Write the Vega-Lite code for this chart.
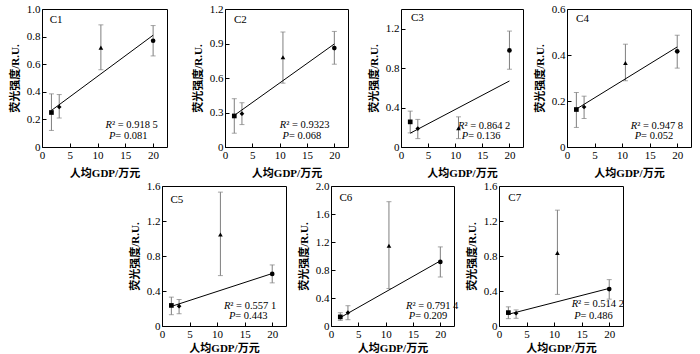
{
"$schema": "https://vega.github.io/schema/vega-lite/v6.json",
"background": "white",
"padding": {"left": 8, "top": 2, "right": 0, "bottom": 0},
"datasets": {
"pts": [
{"panel":"C1","gdp":1.7,"mean":0.25,"lo":0.12,"hi":0.385,"grp":"a"},
{"panel":"C1","gdp":3.1,"mean":0.29,"lo":0.21,"hi":0.38,"grp":"b"},
{"panel":"C1","gdp":10.6,"mean":0.72,"lo":0.56,"hi":0.885,"grp":"c"},
{"panel":"C1","gdp":20,"mean":0.77,"lo":0.66,"hi":0.88,"grp":"d"},
{"panel":"C2","gdp":1.7,"mean":0.27,"lo":0.12,"hi":0.42,"grp":"a"},
{"panel":"C2","gdp":3.1,"mean":0.29,"lo":0.195,"hi":0.385,"grp":"b"},
{"panel":"C2","gdp":10.6,"mean":0.78,"lo":0.555,"hi":1.0,"grp":"c"},
{"panel":"C2","gdp":20,"mean":0.86,"lo":0.72,"hi":1.005,"grp":"d"},
{"panel":"C3","gdp":1.7,"mean":0.255,"lo":0.143,"hi":0.364,"grp":"a"},
{"panel":"C3","gdp":3.1,"mean":0.187,"lo":0.085,"hi":0.28,"grp":"b"},
{"panel":"C3","gdp":10.6,"mean":0.19,"lo":0.085,"hi":0.306,"grp":"c"},
{"panel":"C3","gdp":20,"mean":0.98,"lo":0.789,"hi":1.176,"grp":"d"},
{"panel":"C4","gdp":1.7,"mean":0.163,"lo":0.085,"hi":0.237,"grp":"a"},
{"panel":"C4","gdp":3.1,"mean":0.174,"lo":0.124,"hi":0.221,"grp":"b"},
{"panel":"C4","gdp":10.6,"mean":0.365,"lo":0.288,"hi":0.447,"grp":"c"},
{"panel":"C4","gdp":20,"mean":0.416,"lo":0.343,"hi":0.486,"grp":"d"},
{"panel":"C5","gdp":1.7,"mean":0.235,"lo":0.129,"hi":0.33,"grp":"a"},
{"panel":"C5","gdp":3.1,"mean":0.227,"lo":0.14,"hi":0.303,"grp":"b"},
{"panel":"C5","gdp":10.6,"mean":1.046,"lo":0.576,"hi":1.53,"grp":"c"},
{"panel":"C5","gdp":20,"mean":0.595,"lo":0.493,"hi":0.698,"grp":"d"},
{"panel":"C6","gdp":1.7,"mean":0.13,"lo":0.08,"hi":0.19,"grp":"a"},
{"panel":"C6","gdp":3.1,"mean":0.19,"lo":0.09,"hi":0.29,"grp":"b"},
{"panel":"C6","gdp":10.6,"mean":1.146,"lo":0.535,"hi":1.776,"grp":"c"},
{"panel":"C6","gdp":20,"mean":0.916,"lo":0.7,"hi":1.13,"grp":"d"},
{"panel":"C7","gdp":1.7,"mean":0.153,"lo":0.084,"hi":0.219,"grp":"a"},
{"panel":"C7","gdp":3.1,"mean":0.146,"lo":0.088,"hi":0.184,"grp":"b"},
{"panel":"C7","gdp":10.6,"mean":0.836,"lo":0.361,"hi":1.324,"grp":"c"},
{"panel":"C7","gdp":20,"mean":0.422,"lo":0.307,"hi":0.53,"grp":"d"}
],
"fit": [
{"panel":"C1","gdp":1.7,"fit":0.265},{"panel":"C1","gdp":20,"fit":0.81},
{"panel":"C2","gdp":1.7,"fit":0.275},{"panel":"C2","gdp":20,"fit":0.896},
{"panel":"C3","gdp":1.7,"fit":0.14},{"panel":"C3","gdp":20,"fit":0.67},
{"panel":"C4","gdp":1.7,"fit":0.165},{"panel":"C4","gdp":20,"fit":0.435},
{"panel":"C5","gdp":1.7,"fit":0.224},{"panel":"C5","gdp":20,"fit":0.6},
{"panel":"C6","gdp":1.7,"fit":0.12},{"panel":"C6","gdp":20,"fit":0.93},
{"panel":"C7","gdp":1.7,"fit":0.134},{"panel":"C7","gdp":20,"fit":0.43}
],
"stats": [
{"panel":"C1","r2t":"² = 0.918 5","pt":"\u00a0= 0.081"},
{"panel":"C2","r2t":"² = 0.9323","pt":"\u00a0= 0.068"},
{"panel":"C3","r2t":"² = 0.864 2","pt":"\u00a0= 0.136"},
{"panel":"C4","r2t":"² = 0.947 8","pt":"\u00a0= 0.052"},
{"panel":"C5","r2t":"² = 0.557 1","pt":"\u00a0= 0.443"},
{"panel":"C6","r2t":"² = 0.791 4","pt":"\u00a0= 0.209"},
{"panel":"C7","r2t":"² = 0.514 2","pt":"\u00a0= 0.486"}
]
},
"vconcat": [
{"hconcat": [
 {"hconcat": [
  {"width":125,"height":138,"layer":[
   {"data":{"name":"pts"},"transform":[{"filter":"datum.panel==='C1'"}],"mark":{"type":"errorbar","ticks":{"size":5},"color":"#7f7f7f","thickness":1},
    "encoding":{"x":{"field":"gdp","type":"quantitative","title":"人均GDP/万元","scale":{"domain":[0,22.5],"nice":false,"zero":false},"axis":{"values":[0,5,10,15,20],"tickCount":12,"labelOverlap":false,"titlePadding":7}},
     "y":{"field":"lo","type":"quantitative","title":"荧光强度/R.U.","scale":{"domain":[0,1.0],"nice":false},"axis":{"values":[0,0.2,0.4,0.6,0.8,1.0],"tickCount":12,"labelOverlap":false,"labelExpr":"datum.value == 0 ? '0' : format(datum.value, '.1f')"}},"y2":{"field":"hi"}}},
   {"data":{"name":"fit"},"transform":[{"filter":"datum.panel==='C1'"}],"mark":{"type":"line","color":"black","strokeWidth":1},"encoding":{"x":{"field":"gdp","type":"quantitative"},"y":{"field":"fit","type":"quantitative"}}},
   {"data":{"name":"pts"},"transform":[{"filter":"datum.panel==='C1'"}],"mark":{"type":"point","filled":true,"color":"black","size":22,"opacity":1},"encoding":{"x":{"field":"gdp","type":"quantitative"},"y":{"field":"mean","type":"quantitative"},"shape":{"field":"grp","type":"nominal","scale":{"domain":["a","b","c","d"],"range":["square","diamond","triangle-up","circle"]},"legend":null}}},
   {"data":{"name":"stats"},"transform":[{"filter":"datum.panel==='C1'"}],"mark":{"type":"text","align":"left","baseline":"middle","font":"Liberation Serif","fontSize":11,"color":"black"},"encoding":{"x":{"datum":1.38},"y":{"datum":0.923},"text":{"field":"panel"}}},
   {"data":{"name":"stats"},"transform":[{"filter":"datum.panel==='C1'"}],"mark":{"type":"text","align":"right","baseline":"middle","font":"Liberation Serif","fontSize":10.5,"fontStyle":"italic","color":"black"},"encoding":{"x":{"datum":12.6},"y":{"datum":0.157},"text":{"value":"R"}}},
   {"data":{"name":"stats"},"transform":[{"filter":"datum.panel==='C1'"}],"mark":{"type":"text","align":"left","baseline":"middle","font":"Liberation Serif","fontSize":10.5,"color":"black"},"encoding":{"x":{"datum":12.6},"y":{"datum":0.157},"text":{"field":"r2t"}}},
   {"data":{"name":"stats"},"transform":[{"filter":"datum.panel==='C1'"}],"mark":{"type":"text","align":"right","baseline":"middle","font":"Liberation Serif","fontSize":10.5,"fontStyle":"italic","color":"black"},"encoding":{"x":{"datum":13.2},"y":{"datum":0.08},"text":{"value":"P"}}},
   {"data":{"name":"stats"},"transform":[{"filter":"datum.panel==='C1'"}],"mark":{"type":"text","align":"left","baseline":"middle","font":"Liberation Serif","fontSize":10.5,"color":"black"},"encoding":{"x":{"datum":13.2},"y":{"datum":0.08},"text":{"field":"pt"}}}
  ]},
  {"width":123,"height":138,"layer":[
   {"data":{"name":"pts"},"transform":[{"filter":"datum.panel==='C2'"}],"mark":{"type":"errorbar","ticks":{"size":5},"color":"#7f7f7f","thickness":1},
    "encoding":{"x":{"field":"gdp","type":"quantitative","title":"人均GDP/万元","scale":{"domain":[0,22.5],"nice":false,"zero":false},"axis":{"values":[0,5,10,15,20],"tickCount":12,"labelOverlap":false,"titlePadding":7}},
     "y":{"field":"lo","type":"quantitative","title":"荧光强度/R.U.","scale":{"domain":[0,1.2],"nice":false},"axis":{"values":[0,0.3,0.6,0.9,1.2],"tickCount":12,"labelOverlap":false,"labelExpr":"datum.value == 0 ? '0' : format(datum.value, '.1f')"}},"y2":{"field":"hi"}}},
   {"data":{"name":"fit"},"transform":[{"filter":"datum.panel==='C2'"}],"mark":{"type":"line","color":"black","strokeWidth":1},"encoding":{"x":{"field":"gdp","type":"quantitative"},"y":{"field":"fit","type":"quantitative"}}},
   {"data":{"name":"pts"},"transform":[{"filter":"datum.panel==='C2'"}],"mark":{"type":"point","filled":true,"color":"black","size":22,"opacity":1},"encoding":{"x":{"field":"gdp","type":"quantitative"},"y":{"field":"mean","type":"quantitative"},"shape":{"field":"grp","type":"nominal","scale":{"domain":["a","b","c","d"],"range":["square","diamond","triangle-up","circle"]},"legend":null}}},
   {"data":{"name":"stats"},"transform":[{"filter":"datum.panel==='C2'"}],"mark":{"type":"text","align":"left","baseline":"middle","font":"Liberation Serif","fontSize":11,"color":"black"},"encoding":{"x":{"datum":1.63},"y":{"datum":1.108},"text":{"field":"panel"}}},
   {"data":{"name":"stats"},"transform":[{"filter":"datum.panel==='C2'"}],"mark":{"type":"text","align":"right","baseline":"middle","font":"Liberation Serif","fontSize":10.5,"fontStyle":"italic","color":"black"},"encoding":{"x":{"datum":11.2},"y":{"datum":0.188},"text":{"value":"R"}}},
   {"data":{"name":"stats"},"transform":[{"filter":"datum.panel==='C2'"}],"mark":{"type":"text","align":"left","baseline":"middle","font":"Liberation Serif","fontSize":10.5,"color":"black"},"encoding":{"x":{"datum":11.2},"y":{"datum":0.188},"text":{"field":"r2t"}}},
   {"data":{"name":"stats"},"transform":[{"filter":"datum.panel==='C2'"}],"mark":{"type":"text","align":"right","baseline":"middle","font":"Liberation Serif","fontSize":10.5,"fontStyle":"italic","color":"black"},"encoding":{"x":{"datum":11.7},"y":{"datum":0.095},"text":{"value":"P"}}},
   {"data":{"name":"stats"},"transform":[{"filter":"datum.panel==='C2'"}],"mark":{"type":"text","align":"left","baseline":"middle","font":"Liberation Serif","fontSize":10.5,"color":"black"},"encoding":{"x":{"datum":11.7},"y":{"datum":0.095},"text":{"field":"pt"}}}
  ]}
 ], "spacing": 23},
 {"hconcat": [
  {"width":122,"height":138,"layer":[
   {"data":{"name":"pts"},"transform":[{"filter":"datum.panel==='C3'"}],"mark":{"type":"errorbar","ticks":{"size":5},"color":"#7f7f7f","thickness":1},
    "encoding":{"x":{"field":"gdp","type":"quantitative","title":"人均GDP/万元","scale":{"domain":[0,22.5],"nice":false,"zero":false},"axis":{"values":[0,5,10,15,20],"tickCount":12,"labelOverlap":false,"titlePadding":7}},
     "y":{"field":"lo","type":"quantitative","title":"荧光强度/R.U.","scale":{"domain":[0,1.4],"nice":false},"axis":{"values":[0,0.4,0.8,1.2],"tickCount":12,"labelOverlap":false,"labelExpr":"datum.value == 0 ? '0' : format(datum.value, '.1f')"}},"y2":{"field":"hi"}}},
   {"data":{"name":"fit"},"transform":[{"filter":"datum.panel==='C3'"}],"mark":{"type":"line","color":"black","strokeWidth":1},"encoding":{"x":{"field":"gdp","type":"quantitative"},"y":{"field":"fit","type":"quantitative"}}},
   {"data":{"name":"pts"},"transform":[{"filter":"datum.panel==='C3'"}],"mark":{"type":"point","filled":true,"color":"black","size":22,"opacity":1},"encoding":{"x":{"field":"gdp","type":"quantitative"},"y":{"field":"mean","type":"quantitative"},"shape":{"field":"grp","type":"nominal","scale":{"domain":["a","b","c","d"],"range":["square","diamond","triangle-up","circle"]},"legend":null}}},
   {"data":{"name":"stats"},"transform":[{"filter":"datum.panel==='C3'"}],"mark":{"type":"text","align":"left","baseline":"middle","font":"Liberation Serif","fontSize":11,"color":"black"},"encoding":{"x":{"datum":1.83},"y":{"datum":1.309},"text":{"field":"panel"}}},
   {"data":{"name":"stats"},"transform":[{"filter":"datum.panel==='C3'"}],"mark":{"type":"text","align":"right","baseline":"middle","font":"Liberation Serif","fontSize":10.5,"fontStyle":"italic","color":"black"},"encoding":{"x":{"datum":11.7},"y":{"datum":0.211},"text":{"value":"R"}}},
   {"data":{"name":"stats"},"transform":[{"filter":"datum.panel==='C3'"}],"mark":{"type":"text","align":"left","baseline":"middle","font":"Liberation Serif","fontSize":10.5,"color":"black"},"encoding":{"x":{"datum":11.7},"y":{"datum":0.211},"text":{"field":"r2t"}}},
   {"data":{"name":"stats"},"transform":[{"filter":"datum.panel==='C3'"}],"mark":{"type":"text","align":"right","baseline":"middle","font":"Liberation Serif","fontSize":10.5,"fontStyle":"italic","color":"black"},"encoding":{"x":{"datum":12.4},"y":{"datum":0.112},"text":{"value":"P"}}},
   {"data":{"name":"stats"},"transform":[{"filter":"datum.panel==='C3'"}],"mark":{"type":"text","align":"left","baseline":"middle","font":"Liberation Serif","fontSize":10.5,"color":"black"},"encoding":{"x":{"datum":12.4},"y":{"datum":0.112},"text":{"field":"pt"}}}
  ]},
  {"width":124,"height":138,"layer":[
   {"data":{"name":"pts"},"transform":[{"filter":"datum.panel==='C4'"}],"mark":{"type":"errorbar","ticks":{"size":5},"color":"#7f7f7f","thickness":1},
    "encoding":{"x":{"field":"gdp","type":"quantitative","title":"人均GDP/万元","scale":{"domain":[0,22.5],"nice":false,"zero":false},"axis":{"values":[0,5,10,15,20],"tickCount":12,"labelOverlap":false,"titlePadding":7}},
     "y":{"field":"lo","type":"quantitative","title":"荧光强度/R.U.","scale":{"domain":[0,0.6],"nice":false},"axis":{"values":[0,0.2,0.4,0.6],"tickCount":12,"labelOverlap":false,"labelExpr":"datum.value == 0 ? '0' : format(datum.value, '.1f')"}},"y2":{"field":"hi"}}},
   {"data":{"name":"fit"},"transform":[{"filter":"datum.panel==='C4'"}],"mark":{"type":"line","color":"black","strokeWidth":1},"encoding":{"x":{"field":"gdp","type":"quantitative"},"y":{"field":"fit","type":"quantitative"}}},
   {"data":{"name":"pts"},"transform":[{"filter":"datum.panel==='C4'"}],"mark":{"type":"point","filled":true,"color":"black","size":22,"opacity":1},"encoding":{"x":{"field":"gdp","type":"quantitative"},"y":{"field":"mean","type":"quantitative"},"shape":{"field":"grp","type":"nominal","scale":{"domain":["a","b","c","d"],"range":["square","diamond","triangle-up","circle"]},"legend":null}}},
   {"data":{"name":"stats"},"transform":[{"filter":"datum.panel==='C4'"}],"mark":{"type":"text","align":"left","baseline":"middle","font":"Liberation Serif","fontSize":11,"color":"black"},"encoding":{"x":{"datum":1.65},"y":{"datum":0.557},"text":{"field":"panel"}}},
   {"data":{"name":"stats"},"transform":[{"filter":"datum.panel==='C4'"}],"mark":{"type":"text","align":"right","baseline":"middle","font":"Liberation Serif","fontSize":10.5,"fontStyle":"italic","color":"black"},"encoding":{"x":{"datum":12.75},"y":{"datum":0.09},"text":{"value":"R"}}},
   {"data":{"name":"stats"},"transform":[{"filter":"datum.panel==='C4'"}],"mark":{"type":"text","align":"left","baseline":"middle","font":"Liberation Serif","fontSize":10.5,"color":"black"},"encoding":{"x":{"datum":12.75},"y":{"datum":0.09},"text":{"field":"r2t"}}},
   {"data":{"name":"stats"},"transform":[{"filter":"datum.panel==='C4'"}],"mark":{"type":"text","align":"right","baseline":"middle","font":"Liberation Serif","fontSize":10.5,"fontStyle":"italic","color":"black"},"encoding":{"x":{"datum":13.45},"y":{"datum":0.0465},"text":{"value":"P"}}},
   {"data":{"name":"stats"},"transform":[{"filter":"datum.panel==='C4'"}],"mark":{"type":"text","align":"left","baseline":"middle","font":"Liberation Serif","fontSize":10.5,"color":"black"},"encoding":{"x":{"datum":13.45},"y":{"datum":0.0465},"text":{"field":"pt"}}}
  ]}
 ], "spacing": 9}
], "spacing": 18},
{"hconcat": [
 {"width":76,"height":140,"data":{"values":[]},"mark":{"type":"point"},"view":{"stroke":null}},
 {"width":124,"height":140,"layer":[
   {"data":{"name":"pts"},"transform":[{"filter":"datum.panel==='C5'"}],"mark":{"type":"errorbar","ticks":{"size":5},"color":"#7f7f7f","thickness":1},
    "encoding":{"x":{"field":"gdp","type":"quantitative","title":"人均GDP/万元","scale":{"domain":[0,22.5],"nice":false,"zero":false},"axis":{"values":[0,5,10,15,20],"tickCount":12,"labelOverlap":false,"titlePadding":3}},
     "y":{"field":"lo","type":"quantitative","title":"荧光强度/R.U.","scale":{"domain":[0,1.6],"nice":false},"axis":{"values":[0,0.4,0.8,1.2,1.6],"tickCount":12,"labelOverlap":false,"labelExpr":"datum.value == 0 ? '0' : format(datum.value, '.1f')"}},"y2":{"field":"hi"}}},
   {"data":{"name":"fit"},"transform":[{"filter":"datum.panel==='C5'"}],"mark":{"type":"line","color":"black","strokeWidth":1},"encoding":{"x":{"field":"gdp","type":"quantitative"},"y":{"field":"fit","type":"quantitative"}}},
   {"data":{"name":"pts"},"transform":[{"filter":"datum.panel==='C5'"}],"mark":{"type":"point","filled":true,"color":"black","size":22,"opacity":1},"encoding":{"x":{"field":"gdp","type":"quantitative"},"y":{"field":"mean","type":"quantitative"},"shape":{"field":"grp","type":"nominal","scale":{"domain":["a","b","c","d"],"range":["square","diamond","triangle-up","circle"]},"legend":null}}},
   {"data":{"name":"stats"},"transform":[{"filter":"datum.panel==='C5'"}],"mark":{"type":"text","align":"left","baseline":"middle","font":"Liberation Serif","fontSize":11,"color":"black"},"encoding":{"x":{"datum":1.52},"y":{"datum":1.44},"text":{"field":"panel"}}},
   {"data":{"name":"stats"},"transform":[{"filter":"datum.panel==='C5'"}],"mark":{"type":"text","align":"right","baseline":"middle","font":"Liberation Serif","fontSize":10.5,"fontStyle":"italic","color":"black"},"encoding":{"x":{"datum":12.4},"y":{"datum":0.227},"text":{"value":"R"}}},
   {"data":{"name":"stats"},"transform":[{"filter":"datum.panel==='C5'"}],"mark":{"type":"text","align":"left","baseline":"middle","font":"Liberation Serif","fontSize":10.5,"color":"black"},"encoding":{"x":{"datum":12.4},"y":{"datum":0.227},"text":{"field":"r2t"}}},
   {"data":{"name":"stats"},"transform":[{"filter":"datum.panel==='C5'"}],"mark":{"type":"text","align":"right","baseline":"middle","font":"Liberation Serif","fontSize":10.5,"fontStyle":"italic","color":"black"},"encoding":{"x":{"datum":13.3},"y":{"datum":0.114},"text":{"value":"P"}}},
   {"data":{"name":"stats"},"transform":[{"filter":"datum.panel==='C5'"}],"mark":{"type":"text","align":"left","baseline":"middle","font":"Liberation Serif","fontSize":10.5,"color":"black"},"encoding":{"x":{"datum":13.3},"y":{"datum":0.114},"text":{"field":"pt"}}}
 ]},
 {"hconcat": [
  {"width":123,"height":140,"layer":[
   {"data":{"name":"pts"},"transform":[{"filter":"datum.panel==='C6'"}],"mark":{"type":"errorbar","ticks":{"size":5},"color":"#7f7f7f","thickness":1},
    "encoding":{"x":{"field":"gdp","type":"quantitative","title":"人均GDP/万元","scale":{"domain":[0,22.5],"nice":false,"zero":false},"axis":{"values":[0,5,10,15,20],"tickCount":12,"labelOverlap":false,"titlePadding":3}},
     "y":{"field":"lo","type":"quantitative","title":"荧光强度/R.U.","scale":{"domain":[0,2.0],"nice":false},"axis":{"values":[0,0.4,0.8,1.2,1.6,2.0],"tickCount":12,"labelOverlap":false,"labelExpr":"datum.value == 0 ? '0' : format(datum.value, '.1f')"}},"y2":{"field":"hi"}}},
   {"data":{"name":"fit"},"transform":[{"filter":"datum.panel==='C6'"}],"mark":{"type":"line","color":"black","strokeWidth":1},"encoding":{"x":{"field":"gdp","type":"quantitative"},"y":{"field":"fit","type":"quantitative"}}},
   {"data":{"name":"pts"},"transform":[{"filter":"datum.panel==='C6'"}],"mark":{"type":"point","filled":true,"color":"black","size":22,"opacity":1},"encoding":{"x":{"field":"gdp","type":"quantitative"},"y":{"field":"mean","type":"quantitative"},"shape":{"field":"grp","type":"nominal","scale":{"domain":["a","b","c","d"],"range":["square","diamond","triangle-up","circle"]},"legend":null}}},
   {"data":{"name":"stats"},"transform":[{"filter":"datum.panel==='C6'"}],"mark":{"type":"text","align":"left","baseline":"middle","font":"Liberation Serif","fontSize":11,"color":"black"},"encoding":{"x":{"datum":1.54},"y":{"datum":1.833},"text":{"field":"panel"}}},
   {"data":{"name":"stats"},"transform":[{"filter":"datum.panel==='C6'"}],"mark":{"type":"text","align":"right","baseline":"middle","font":"Liberation Serif","fontSize":10.5,"fontStyle":"italic","color":"black"},"encoding":{"x":{"datum":14.9},"y":{"datum":0.286},"text":{"value":"R"}}},
   {"data":{"name":"stats"},"transform":[{"filter":"datum.panel==='C6'"}],"mark":{"type":"text","align":"left","baseline":"middle","font":"Liberation Serif","fontSize":10.5,"color":"black"},"encoding":{"x":{"datum":14.9},"y":{"datum":0.286},"text":{"field":"r2t"}}},
   {"data":{"name":"stats"},"transform":[{"filter":"datum.panel==='C6'"}],"mark":{"type":"text","align":"right","baseline":"middle","font":"Liberation Serif","fontSize":10.5,"fontStyle":"italic","color":"black"},"encoding":{"x":{"datum":15.4},"y":{"datum":0.143},"text":{"value":"P"}}},
   {"data":{"name":"stats"},"transform":[{"filter":"datum.panel==='C6'"}],"mark":{"type":"text","align":"left","baseline":"middle","font":"Liberation Serif","fontSize":10.5,"color":"black"},"encoding":{"x":{"datum":15.4},"y":{"datum":0.143},"text":{"field":"pt"}}}
  ]},
  {"width":124,"height":140,"layer":[
   {"data":{"name":"pts"},"transform":[{"filter":"datum.panel==='C7'"}],"mark":{"type":"errorbar","ticks":{"size":5},"color":"#7f7f7f","thickness":1},
    "encoding":{"x":{"field":"gdp","type":"quantitative","title":"人均GDP/万元","scale":{"domain":[0,22.5],"nice":false,"zero":false},"axis":{"values":[0,5,10,15,20],"tickCount":12,"labelOverlap":false,"titlePadding":3}},
     "y":{"field":"lo","type":"quantitative","title":"荧光强度/R.U.","scale":{"domain":[0,1.6],"nice":false},"axis":{"values":[0,0.4,0.8,1.2,1.6],"tickCount":12,"labelOverlap":false,"labelExpr":"datum.value == 0 ? '0' : format(datum.value, '.1f')"}},"y2":{"field":"hi"}}},
   {"data":{"name":"fit"},"transform":[{"filter":"datum.panel==='C7'"}],"mark":{"type":"line","color":"black","strokeWidth":1},"encoding":{"x":{"field":"gdp","type":"quantitative"},"y":{"field":"fit","type":"quantitative"}}},
   {"data":{"name":"pts"},"transform":[{"filter":"datum.panel==='C7'"}],"mark":{"type":"point","filled":true,"color":"black","size":22,"opacity":1},"encoding":{"x":{"field":"gdp","type":"quantitative"},"y":{"field":"mean","type":"quantitative"},"shape":{"field":"grp","type":"nominal","scale":{"domain":["a","b","c","d"],"range":["square","diamond","triangle-up","circle"]},"legend":null}}},
   {"data":{"name":"stats"},"transform":[{"filter":"datum.panel==='C7'"}],"mark":{"type":"text","align":"left","baseline":"middle","font":"Liberation Serif","fontSize":11,"color":"black"},"encoding":{"x":{"datum":1.7},"y":{"datum":1.458},"text":{"field":"panel"}}},
   {"data":{"name":"stats"},"transform":[{"filter":"datum.panel==='C7'"}],"mark":{"type":"text","align":"right","baseline":"middle","font":"Liberation Serif","fontSize":10.5,"fontStyle":"italic","color":"black"},"encoding":{"x":{"datum":14.35},"y":{"datum":0.249},"text":{"value":"R"}}},
   {"data":{"name":"stats"},"transform":[{"filter":"datum.panel==='C7'"}],"mark":{"type":"text","align":"left","baseline":"middle","font":"Liberation Serif","fontSize":10.5,"color":"black"},"encoding":{"x":{"datum":14.35},"y":{"datum":0.249},"text":{"field":"r2t"}}},
   {"data":{"name":"stats"},"transform":[{"filter":"datum.panel==='C7'"}],"mark":{"type":"text","align":"right","baseline":"middle","font":"Liberation Serif","fontSize":10.5,"fontStyle":"italic","color":"black"},"encoding":{"x":{"datum":14.8},"y":{"datum":0.115},"text":{"value":"P"}}},
   {"data":{"name":"stats"},"transform":[{"filter":"datum.panel==='C7'"}],"mark":{"type":"text","align":"left","baseline":"middle","font":"Liberation Serif","fontSize":10.5,"color":"black"},"encoding":{"x":{"datum":14.8},"y":{"datum":0.115},"text":{"field":"pt"}}}
  ]}
 ], "spacing": 6}
], "spacing": 10}
],
"spacing": 0,
"config": {
 "view": {"stroke": "black", "strokeWidth": 1},
 "axis": {"grid": false, "domain": false, "tickColor": "black", "tickSize": -4, "labelFont": "Liberation Serif", "labelFontSize": 11, "labelColor": "black", "labelPadding": 6, "labelFlush": false, "labelOverlap": false, "titleFont": "Liberation Serif, Noto Sans CJK SC", "titleFontSize": 11, "titleFontWeight": "bold", "titleColor": "black"},
 "axisY": {"titlePadding": 6}
}
}
